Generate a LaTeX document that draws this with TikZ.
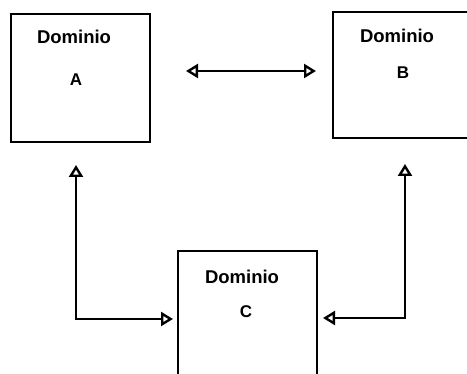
\documentclass[tikz,border=0pt]{standalone}
\usepackage{fontspec}
\setmainfont{Liberation Sans}
\usetikzlibrary{arrows.meta}
\begin{document}
\begin{tikzpicture}[x=1pt,y=-1pt,
  dombox/.style={draw=black, line width=2.6pt, minimum width=139pt, minimum height=128pt, inner sep=0pt, outer sep=0pt},
  domtitle/.style={font=\fontsize{18.5}{22}\selectfont\bfseries, inner sep=0pt},
  domletter/.style={font=\fontsize{17}{20}\selectfont\bfseries, inner sep=0pt},
  tip/.style={Triangle[open, length=12pt, width=14pt, line width=2.4pt]},
  link/.style={line width=2.3pt, {Triangle[open, length=12pt, width=14pt, line width=2.4pt]}-{Triangle[open, length=12pt, width=14pt, line width=2.4pt]}}
]
\useasboundingbox (0,0) rectangle (467,374);
\fill[white] (0,0) rectangle (467,374);
% boxes
\node[dombox] (A) at (80.5,78) {};
\node[dombox, minimum width=150pt, minimum height=126pt, anchor=north west] (B) at (333,12) {};
\node[dombox, minimum height=150pt, anchor=north west] (C) at (178,251) {};
% texts
\node[domtitle] (At) at (74,37) {Dominio};
\node[domletter] (Al) at (76,80) {A};
\node[domtitle] (Bt) at (397,36) {Dominio};
\node[domletter] (Bl) at (403,73) {B};
\node[domtitle] (Ct) at (242,277) {Dominio};
\node[domletter] (Cl) at (246,312) {C};
% connector end points
\coordinate (ABl) at (186,71);
\coordinate (ABr) at (316,71);
\coordinate (Ad) at (76,165);
\coordinate (Ac) at (173,319);
\coordinate (Bd) at (405,164);
\coordinate (Bc) at (323,318);
% connectors
\draw[link] (ABl) -- (ABr);
\draw[link] (Ad) |- (Ac);
\draw[link] (Bd) |- (Bc);
\end{tikzpicture}
\end{document}
